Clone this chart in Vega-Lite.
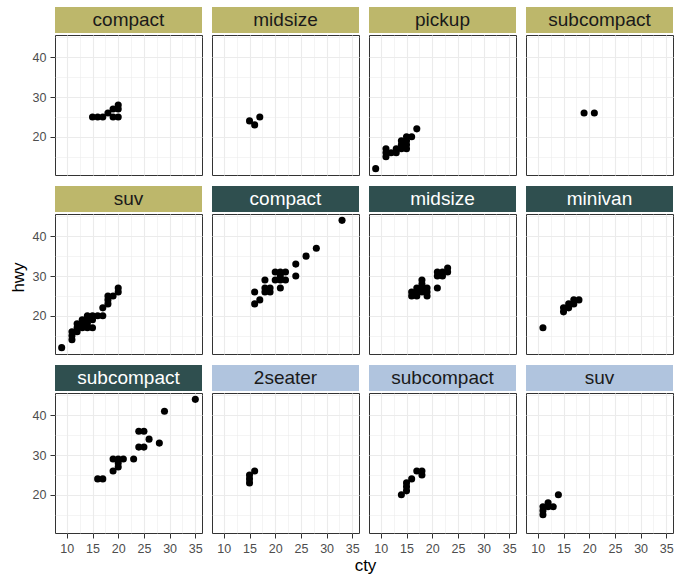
{
"$schema": "https://vega.github.io/schema/vega-lite/v6.json",
"padding": {"left": 8, "top": 7, "right": 3, "bottom": 3},
"background": "white",
"datasets": {
"mpg": [
{"drv":"4","class":"compact","cty":15,"hwy":25},{"drv":"4","class":"compact","cty":16,"hwy":25},{"drv":"4","class":"compact","cty":17,"hwy":25},{"drv":"4","class":"compact","cty":18,"hwy":26},{"drv":"4","class":"compact","cty":19,"hwy":27},{"drv":"4","class":"compact","cty":20,"hwy":28},{"drv":"4","class":"compact","cty":19,"hwy":25},{"drv":"4","class":"compact","cty":20,"hwy":25},{"drv":"4","class":"compact","cty":20,"hwy":27},
{"drv":"4","class":"midsize","cty":15,"hwy":24},{"drv":"4","class":"midsize","cty":16,"hwy":23},{"drv":"4","class":"midsize","cty":17,"hwy":25},
{"drv":"4","class":"pickup","cty":9,"hwy":12},{"drv":"4","class":"pickup","cty":11,"hwy":15},{"drv":"4","class":"pickup","cty":11,"hwy":16},{"drv":"4","class":"pickup","cty":11,"hwy":17},{"drv":"4","class":"pickup","cty":12,"hwy":16},{"drv":"4","class":"pickup","cty":13,"hwy":16},{"drv":"4","class":"pickup","cty":13,"hwy":17},{"drv":"4","class":"pickup","cty":14,"hwy":17},{"drv":"4","class":"pickup","cty":14,"hwy":18},{"drv":"4","class":"pickup","cty":14,"hwy":19},{"drv":"4","class":"pickup","cty":15,"hwy":17},{"drv":"4","class":"pickup","cty":15,"hwy":18},{"drv":"4","class":"pickup","cty":15,"hwy":19},{"drv":"4","class":"pickup","cty":15,"hwy":20},{"drv":"4","class":"pickup","cty":16,"hwy":20},{"drv":"4","class":"pickup","cty":17,"hwy":22},
{"drv":"4","class":"subcompact","cty":19,"hwy":26},{"drv":"4","class":"subcompact","cty":21,"hwy":26},
{"drv":"4","class":"suv","cty":9,"hwy":12},{"drv":"4","class":"suv","cty":11,"hwy":14},{"drv":"4","class":"suv","cty":11,"hwy":15},{"drv":"4","class":"suv","cty":11,"hwy":16},{"drv":"4","class":"suv","cty":12,"hwy":16},{"drv":"4","class":"suv","cty":12,"hwy":17},{"drv":"4","class":"suv","cty":12,"hwy":18},{"drv":"4","class":"suv","cty":13,"hwy":17},{"drv":"4","class":"suv","cty":13,"hwy":18},{"drv":"4","class":"suv","cty":13,"hwy":19},{"drv":"4","class":"suv","cty":14,"hwy":17},{"drv":"4","class":"suv","cty":14,"hwy":18},{"drv":"4","class":"suv","cty":14,"hwy":19},{"drv":"4","class":"suv","cty":14,"hwy":20},{"drv":"4","class":"suv","cty":15,"hwy":17},{"drv":"4","class":"suv","cty":15,"hwy":19},{"drv":"4","class":"suv","cty":15,"hwy":20},{"drv":"4","class":"suv","cty":16,"hwy":20},{"drv":"4","class":"suv","cty":17,"hwy":20},{"drv":"4","class":"suv","cty":17,"hwy":22},{"drv":"4","class":"suv","cty":18,"hwy":23},{"drv":"4","class":"suv","cty":18,"hwy":24},{"drv":"4","class":"suv","cty":18,"hwy":25},{"drv":"4","class":"suv","cty":19,"hwy":25},{"drv":"4","class":"suv","cty":20,"hwy":26},{"drv":"4","class":"suv","cty":20,"hwy":27},
{"drv":"f","class":"compact","cty":16,"hwy":23},{"drv":"f","class":"compact","cty":17,"hwy":24},{"drv":"f","class":"compact","cty":16,"hwy":26},{"drv":"f","class":"compact","cty":18,"hwy":26},{"drv":"f","class":"compact","cty":18,"hwy":27},{"drv":"f","class":"compact","cty":19,"hwy":26},{"drv":"f","class":"compact","cty":19,"hwy":27},{"drv":"f","class":"compact","cty":18,"hwy":29},{"drv":"f","class":"compact","cty":20,"hwy":29},{"drv":"f","class":"compact","cty":21,"hwy":29},{"drv":"f","class":"compact","cty":22,"hwy":29},{"drv":"f","class":"compact","cty":21,"hwy":27},{"drv":"f","class":"compact","cty":20,"hwy":31},{"drv":"f","class":"compact","cty":21,"hwy":31},{"drv":"f","class":"compact","cty":22,"hwy":31},{"drv":"f","class":"compact","cty":21,"hwy":30},{"drv":"f","class":"compact","cty":24,"hwy":30},{"drv":"f","class":"compact","cty":24,"hwy":33},{"drv":"f","class":"compact","cty":26,"hwy":35},{"drv":"f","class":"compact","cty":28,"hwy":37},{"drv":"f","class":"compact","cty":33,"hwy":44},
{"drv":"f","class":"midsize","cty":16,"hwy":25},{"drv":"f","class":"midsize","cty":16,"hwy":26},{"drv":"f","class":"midsize","cty":17,"hwy":26},{"drv":"f","class":"midsize","cty":17,"hwy":27},{"drv":"f","class":"midsize","cty":18,"hwy":26},{"drv":"f","class":"midsize","cty":18,"hwy":27},{"drv":"f","class":"midsize","cty":18,"hwy":28},{"drv":"f","class":"midsize","cty":18,"hwy":29},{"drv":"f","class":"midsize","cty":19,"hwy":25},{"drv":"f","class":"midsize","cty":19,"hwy":26},{"drv":"f","class":"midsize","cty":19,"hwy":27},{"drv":"f","class":"midsize","cty":17,"hwy":25},{"drv":"f","class":"midsize","cty":21,"hwy":27},{"drv":"f","class":"midsize","cty":21,"hwy":30},{"drv":"f","class":"midsize","cty":21,"hwy":31},{"drv":"f","class":"midsize","cty":22,"hwy":30},{"drv":"f","class":"midsize","cty":22,"hwy":31},{"drv":"f","class":"midsize","cty":23,"hwy":31},{"drv":"f","class":"midsize","cty":23,"hwy":32},
{"drv":"f","class":"minivan","cty":11,"hwy":17},{"drv":"f","class":"minivan","cty":15,"hwy":21},{"drv":"f","class":"minivan","cty":15,"hwy":22},{"drv":"f","class":"minivan","cty":16,"hwy":22},{"drv":"f","class":"minivan","cty":16,"hwy":23},{"drv":"f","class":"minivan","cty":17,"hwy":23},{"drv":"f","class":"minivan","cty":17,"hwy":24},{"drv":"f","class":"minivan","cty":18,"hwy":24},
{"drv":"f","class":"subcompact","cty":16,"hwy":24},{"drv":"f","class":"subcompact","cty":17,"hwy":24},{"drv":"f","class":"subcompact","cty":19,"hwy":26},{"drv":"f","class":"subcompact","cty":19,"hwy":29},{"drv":"f","class":"subcompact","cty":20,"hwy":27},{"drv":"f","class":"subcompact","cty":20,"hwy":28},{"drv":"f","class":"subcompact","cty":20,"hwy":29},{"drv":"f","class":"subcompact","cty":21,"hwy":29},{"drv":"f","class":"subcompact","cty":23,"hwy":29},{"drv":"f","class":"subcompact","cty":24,"hwy":32},{"drv":"f","class":"subcompact","cty":25,"hwy":32},{"drv":"f","class":"subcompact","cty":24,"hwy":36},{"drv":"f","class":"subcompact","cty":25,"hwy":36},{"drv":"f","class":"subcompact","cty":26,"hwy":34},{"drv":"f","class":"subcompact","cty":28,"hwy":33},{"drv":"f","class":"subcompact","cty":29,"hwy":41},{"drv":"f","class":"subcompact","cty":35,"hwy":44},
{"drv":"r","class":"2seater","cty":15,"hwy":23},{"drv":"r","class":"2seater","cty":15,"hwy":24},{"drv":"r","class":"2seater","cty":15,"hwy":25},{"drv":"r","class":"2seater","cty":16,"hwy":26},
{"drv":"r","class":"subcompact","cty":14,"hwy":20},{"drv":"r","class":"subcompact","cty":15,"hwy":21},{"drv":"r","class":"subcompact","cty":15,"hwy":22},{"drv":"r","class":"subcompact","cty":15,"hwy":23},{"drv":"r","class":"subcompact","cty":16,"hwy":24},{"drv":"r","class":"subcompact","cty":17,"hwy":26},{"drv":"r","class":"subcompact","cty":18,"hwy":26},{"drv":"r","class":"subcompact","cty":18,"hwy":25},
{"drv":"r","class":"suv","cty":11,"hwy":15},{"drv":"r","class":"suv","cty":11,"hwy":16},{"drv":"r","class":"suv","cty":11,"hwy":17},{"drv":"r","class":"suv","cty":12,"hwy":17},{"drv":"r","class":"suv","cty":12,"hwy":18},{"drv":"r","class":"suv","cty":13,"hwy":17},{"drv":"r","class":"suv","cty":14,"hwy":20}
],
"strips": [
{"drv":"4","class":"compact"},{"drv":"4","class":"midsize"},{"drv":"4","class":"pickup"},{"drv":"4","class":"subcompact"},{"drv":"4","class":"suv"},{"drv":"f","class":"compact"},{"drv":"f","class":"midsize"},{"drv":"f","class":"minivan"},{"drv":"f","class":"subcompact"},{"drv":"r","class":"2seater"},{"drv":"r","class":"subcompact"},{"drv":"r","class":"suv"}
]
},
"data": {"name": "mpg"},
"columns": 4,
"spacing": {"row": 2, "column": 10},
"bounds": "flush",
"resolve": {"scale": {"x": "independent", "y": "independent"}},
"concat": [
{"width": 147, "height": 26, "data": {"name": "strips"}, "transform": [{"filter": "datum.drv == '4' && datum.class == 'compact'"}], "view": {"stroke": null}, "layer": [{"mark": "rect", "encoding": {"color": {"field": "drv", "type": "nominal", "scale": {"domain": ["4","f","r"], "range": ["#BDB76B","#2F4F4F","#B0C4DE"]}, "legend": null}}}, {"mark": {"type": "text", "font": "Liberation Sans", "fontSize": 19, "baseline": "middle", "align": "center"}, "encoding": {"text": {"field": "class"}, "color": {"condition": {"test": "datum.drv == 'f'", "value": "#FFFFFF"}, "value": "#1A1A1A"}}}]},
{"width": 147, "height": 26, "data": {"name": "strips"}, "transform": [{"filter": "datum.drv == '4' && datum.class == 'midsize'"}], "view": {"stroke": null}, "layer": [{"mark": "rect", "encoding": {"color": {"field": "drv", "type": "nominal", "scale": {"domain": ["4","f","r"], "range": ["#BDB76B","#2F4F4F","#B0C4DE"]}, "legend": null}}}, {"mark": {"type": "text", "font": "Liberation Sans", "fontSize": 19, "baseline": "middle", "align": "center"}, "encoding": {"text": {"field": "class"}, "color": {"condition": {"test": "datum.drv == 'f'", "value": "#FFFFFF"}, "value": "#1A1A1A"}}}]},
{"width": 147, "height": 26, "data": {"name": "strips"}, "transform": [{"filter": "datum.drv == '4' && datum.class == 'pickup'"}], "view": {"stroke": null}, "layer": [{"mark": "rect", "encoding": {"color": {"field": "drv", "type": "nominal", "scale": {"domain": ["4","f","r"], "range": ["#BDB76B","#2F4F4F","#B0C4DE"]}, "legend": null}}}, {"mark": {"type": "text", "font": "Liberation Sans", "fontSize": 19, "baseline": "middle", "align": "center"}, "encoding": {"text": {"field": "class"}, "color": {"condition": {"test": "datum.drv == 'f'", "value": "#FFFFFF"}, "value": "#1A1A1A"}}}]},
{"width": 147, "height": 26, "data": {"name": "strips"}, "transform": [{"filter": "datum.drv == '4' && datum.class == 'subcompact'"}], "view": {"stroke": null}, "layer": [{"mark": "rect", "encoding": {"color": {"field": "drv", "type": "nominal", "scale": {"domain": ["4","f","r"], "range": ["#BDB76B","#2F4F4F","#B0C4DE"]}, "legend": null}}}, {"mark": {"type": "text", "font": "Liberation Sans", "fontSize": 19, "baseline": "middle", "align": "center"}, "encoding": {"text": {"field": "class"}, "color": {"condition": {"test": "datum.drv == 'f'", "value": "#FFFFFF"}, "value": "#1A1A1A"}}}]},
{"width": 147, "height": 140, "transform": [{"filter": "datum.drv == '4' && datum.class == 'compact'"}], "mark": {"type": "circle", "size": 50, "color": "black", "opacity": 1},
  "encoding": {"x": {"field": "cty", "type": "quantitative", "scale": {"domain": [7.7, 36.3], "nice": false, "zero": false}, "axis": {"values": [10,12.5,15,17.5,20,22.5,25,27.5,30,32.5,35], "labels": false, "ticks": false, "title": null, "gridWidth": {"condition": {"test": "datum.value % 5 == 0", "value": 1.1}, "value": 0.55}}},
   "y": {"field": "hwy", "type": "quantitative", "scale": {"domain": [10.4, 45.6], "nice": false, "zero": false}, "axis": {"values": [15,20,25,30,35,40,45], "labelExpr": "datum.value % 10 == 0 ? datum.label : ''", "title": null, "gridWidth": {"condition": {"test": "datum.value % 10 == 0", "value": 1.1}, "value": 0.55}, "tickOpacity": {"condition": {"test": "datum.value % 10 == 0", "value": 1}, "value": 0}}}}},
{"width": 147, "height": 140, "transform": [{"filter": "datum.drv == '4' && datum.class == 'midsize'"}], "mark": {"type": "circle", "size": 50, "color": "black", "opacity": 1},
  "encoding": {"x": {"field": "cty", "type": "quantitative", "scale": {"domain": [7.7, 36.3], "nice": false, "zero": false}, "axis": {"values": [10,12.5,15,17.5,20,22.5,25,27.5,30,32.5,35], "labels": false, "ticks": false, "title": null, "gridWidth": {"condition": {"test": "datum.value % 5 == 0", "value": 1.1}, "value": 0.55}}},
   "y": {"field": "hwy", "type": "quantitative", "scale": {"domain": [10.4, 45.6], "nice": false, "zero": false}, "axis": {"values": [15,20,25,30,35,40,45], "labels": false, "ticks": false, "title": null, "gridWidth": {"condition": {"test": "datum.value % 10 == 0", "value": 1.1}, "value": 0.55}}}}},
{"width": 147, "height": 140, "transform": [{"filter": "datum.drv == '4' && datum.class == 'pickup'"}], "mark": {"type": "circle", "size": 50, "color": "black", "opacity": 1},
  "encoding": {"x": {"field": "cty", "type": "quantitative", "scale": {"domain": [7.7, 36.3], "nice": false, "zero": false}, "axis": {"values": [10,12.5,15,17.5,20,22.5,25,27.5,30,32.5,35], "labels": false, "ticks": false, "title": null, "gridWidth": {"condition": {"test": "datum.value % 5 == 0", "value": 1.1}, "value": 0.55}}},
   "y": {"field": "hwy", "type": "quantitative", "scale": {"domain": [10.4, 45.6], "nice": false, "zero": false}, "axis": {"values": [15,20,25,30,35,40,45], "labels": false, "ticks": false, "title": null, "gridWidth": {"condition": {"test": "datum.value % 10 == 0", "value": 1.1}, "value": 0.55}}}}},
{"width": 147, "height": 140, "transform": [{"filter": "datum.drv == '4' && datum.class == 'subcompact'"}], "mark": {"type": "circle", "size": 50, "color": "black", "opacity": 1},
  "encoding": {"x": {"field": "cty", "type": "quantitative", "scale": {"domain": [7.7, 36.3], "nice": false, "zero": false}, "axis": {"values": [10,12.5,15,17.5,20,22.5,25,27.5,30,32.5,35], "labels": false, "ticks": false, "title": null, "gridWidth": {"condition": {"test": "datum.value % 5 == 0", "value": 1.1}, "value": 0.55}}},
   "y": {"field": "hwy", "type": "quantitative", "scale": {"domain": [10.4, 45.6], "nice": false, "zero": false}, "axis": {"values": [15,20,25,30,35,40,45], "labels": false, "ticks": false, "title": null, "gridWidth": {"condition": {"test": "datum.value % 10 == 0", "value": 1.1}, "value": 0.55}}}}},
{"width": 147, "height": 35, "data": {"name": "strips"}, "transform": [{"filter": "datum.drv == '4' && datum.class == 'suv'"}], "view": {"stroke": null}, "encoding": {"y": {"field": "class", "type": "nominal", "axis": null, "scale": {"paddingInner": 0, "paddingOuter": 0.173, "align": 1}}}, "layer": [{"mark": "rect", "encoding": {"color": {"field": "drv", "type": "nominal", "scale": {"domain": ["4","f","r"], "range": ["#BDB76B","#2F4F4F","#B0C4DE"]}, "legend": null}}}, {"mark": {"type": "text", "font": "Liberation Sans", "fontSize": 19, "baseline": "middle", "align": "center"}, "encoding": {"text": {"field": "class"}, "color": {"condition": {"test": "datum.drv == 'f'", "value": "#FFFFFF"}, "value": "#1A1A1A"}}}]},
{"width": 147, "height": 35, "data": {"name": "strips"}, "transform": [{"filter": "datum.drv == 'f' && datum.class == 'compact'"}], "view": {"stroke": null}, "encoding": {"y": {"field": "class", "type": "nominal", "axis": null, "scale": {"paddingInner": 0, "paddingOuter": 0.173, "align": 1}}}, "layer": [{"mark": "rect", "encoding": {"color": {"field": "drv", "type": "nominal", "scale": {"domain": ["4","f","r"], "range": ["#BDB76B","#2F4F4F","#B0C4DE"]}, "legend": null}}}, {"mark": {"type": "text", "font": "Liberation Sans", "fontSize": 19, "baseline": "middle", "align": "center"}, "encoding": {"text": {"field": "class"}, "color": {"condition": {"test": "datum.drv == 'f'", "value": "#FFFFFF"}, "value": "#1A1A1A"}}}]},
{"width": 147, "height": 35, "data": {"name": "strips"}, "transform": [{"filter": "datum.drv == 'f' && datum.class == 'midsize'"}], "view": {"stroke": null}, "encoding": {"y": {"field": "class", "type": "nominal", "axis": null, "scale": {"paddingInner": 0, "paddingOuter": 0.173, "align": 1}}}, "layer": [{"mark": "rect", "encoding": {"color": {"field": "drv", "type": "nominal", "scale": {"domain": ["4","f","r"], "range": ["#BDB76B","#2F4F4F","#B0C4DE"]}, "legend": null}}}, {"mark": {"type": "text", "font": "Liberation Sans", "fontSize": 19, "baseline": "middle", "align": "center"}, "encoding": {"text": {"field": "class"}, "color": {"condition": {"test": "datum.drv == 'f'", "value": "#FFFFFF"}, "value": "#1A1A1A"}}}]},
{"width": 147, "height": 35, "data": {"name": "strips"}, "transform": [{"filter": "datum.drv == 'f' && datum.class == 'minivan'"}], "view": {"stroke": null}, "encoding": {"y": {"field": "class", "type": "nominal", "axis": null, "scale": {"paddingInner": 0, "paddingOuter": 0.173, "align": 1}}}, "layer": [{"mark": "rect", "encoding": {"color": {"field": "drv", "type": "nominal", "scale": {"domain": ["4","f","r"], "range": ["#BDB76B","#2F4F4F","#B0C4DE"]}, "legend": null}}}, {"mark": {"type": "text", "font": "Liberation Sans", "fontSize": 19, "baseline": "middle", "align": "center"}, "encoding": {"text": {"field": "class"}, "color": {"condition": {"test": "datum.drv == 'f'", "value": "#FFFFFF"}, "value": "#1A1A1A"}}}]},
{"width": 147, "height": 140, "transform": [{"filter": "datum.drv == '4' && datum.class == 'suv'"}], "mark": {"type": "circle", "size": 50, "color": "black", "opacity": 1},
  "encoding": {"x": {"field": "cty", "type": "quantitative", "scale": {"domain": [7.7, 36.3], "nice": false, "zero": false}, "axis": {"values": [10,12.5,15,17.5,20,22.5,25,27.5,30,32.5,35], "labels": false, "ticks": false, "title": null, "gridWidth": {"condition": {"test": "datum.value % 5 == 0", "value": 1.1}, "value": 0.55}}},
   "y": {"field": "hwy", "type": "quantitative", "scale": {"domain": [10.4, 45.6], "nice": false, "zero": false}, "axis": {"values": [15,20,25,30,35,40,45], "labelExpr": "datum.value % 10 == 0 ? datum.label : ''", "title": "hwy", "titleY": 63, "gridWidth": {"condition": {"test": "datum.value % 10 == 0", "value": 1.1}, "value": 0.55}, "tickOpacity": {"condition": {"test": "datum.value % 10 == 0", "value": 1}, "value": 0}}}}},
{"width": 147, "height": 140, "transform": [{"filter": "datum.drv == 'f' && datum.class == 'compact'"}], "mark": {"type": "circle", "size": 50, "color": "black", "opacity": 1},
  "encoding": {"x": {"field": "cty", "type": "quantitative", "scale": {"domain": [7.7, 36.3], "nice": false, "zero": false}, "axis": {"values": [10,12.5,15,17.5,20,22.5,25,27.5,30,32.5,35], "labels": false, "ticks": false, "title": null, "gridWidth": {"condition": {"test": "datum.value % 5 == 0", "value": 1.1}, "value": 0.55}}},
   "y": {"field": "hwy", "type": "quantitative", "scale": {"domain": [10.4, 45.6], "nice": false, "zero": false}, "axis": {"values": [15,20,25,30,35,40,45], "labels": false, "ticks": false, "title": null, "gridWidth": {"condition": {"test": "datum.value % 10 == 0", "value": 1.1}, "value": 0.55}}}}},
{"width": 147, "height": 140, "transform": [{"filter": "datum.drv == 'f' && datum.class == 'midsize'"}], "mark": {"type": "circle", "size": 50, "color": "black", "opacity": 1},
  "encoding": {"x": {"field": "cty", "type": "quantitative", "scale": {"domain": [7.7, 36.3], "nice": false, "zero": false}, "axis": {"values": [10,12.5,15,17.5,20,22.5,25,27.5,30,32.5,35], "labels": false, "ticks": false, "title": null, "gridWidth": {"condition": {"test": "datum.value % 5 == 0", "value": 1.1}, "value": 0.55}}},
   "y": {"field": "hwy", "type": "quantitative", "scale": {"domain": [10.4, 45.6], "nice": false, "zero": false}, "axis": {"values": [15,20,25,30,35,40,45], "labels": false, "ticks": false, "title": null, "gridWidth": {"condition": {"test": "datum.value % 10 == 0", "value": 1.1}, "value": 0.55}}}}},
{"width": 147, "height": 140, "transform": [{"filter": "datum.drv == 'f' && datum.class == 'minivan'"}], "mark": {"type": "circle", "size": 50, "color": "black", "opacity": 1},
  "encoding": {"x": {"field": "cty", "type": "quantitative", "scale": {"domain": [7.7, 36.3], "nice": false, "zero": false}, "axis": {"values": [10,12.5,15,17.5,20,22.5,25,27.5,30,32.5,35], "labels": false, "ticks": false, "title": null, "gridWidth": {"condition": {"test": "datum.value % 5 == 0", "value": 1.1}, "value": 0.55}}},
   "y": {"field": "hwy", "type": "quantitative", "scale": {"domain": [10.4, 45.6], "nice": false, "zero": false}, "axis": {"values": [15,20,25,30,35,40,45], "labels": false, "ticks": false, "title": null, "gridWidth": {"condition": {"test": "datum.value % 10 == 0", "value": 1.1}, "value": 0.55}}}}},
{"width": 147, "height": 35, "data": {"name": "strips"}, "transform": [{"filter": "datum.drv == 'f' && datum.class == 'subcompact'"}], "view": {"stroke": null}, "encoding": {"y": {"field": "class", "type": "nominal", "axis": null, "scale": {"paddingInner": 0, "paddingOuter": 0.173, "align": 1}}}, "layer": [{"mark": "rect", "encoding": {"color": {"field": "drv", "type": "nominal", "scale": {"domain": ["4","f","r"], "range": ["#BDB76B","#2F4F4F","#B0C4DE"]}, "legend": null}}}, {"mark": {"type": "text", "font": "Liberation Sans", "fontSize": 19, "baseline": "middle", "align": "center"}, "encoding": {"text": {"field": "class"}, "color": {"condition": {"test": "datum.drv == 'f'", "value": "#FFFFFF"}, "value": "#1A1A1A"}}}]},
{"width": 147, "height": 35, "data": {"name": "strips"}, "transform": [{"filter": "datum.drv == 'r' && datum.class == '2seater'"}], "view": {"stroke": null}, "encoding": {"y": {"field": "class", "type": "nominal", "axis": null, "scale": {"paddingInner": 0, "paddingOuter": 0.173, "align": 1}}}, "layer": [{"mark": "rect", "encoding": {"color": {"field": "drv", "type": "nominal", "scale": {"domain": ["4","f","r"], "range": ["#BDB76B","#2F4F4F","#B0C4DE"]}, "legend": null}}}, {"mark": {"type": "text", "font": "Liberation Sans", "fontSize": 19, "baseline": "middle", "align": "center"}, "encoding": {"text": {"field": "class"}, "color": {"condition": {"test": "datum.drv == 'f'", "value": "#FFFFFF"}, "value": "#1A1A1A"}}}]},
{"width": 147, "height": 35, "data": {"name": "strips"}, "transform": [{"filter": "datum.drv == 'r' && datum.class == 'subcompact'"}], "view": {"stroke": null}, "encoding": {"y": {"field": "class", "type": "nominal", "axis": null, "scale": {"paddingInner": 0, "paddingOuter": 0.173, "align": 1}}}, "layer": [{"mark": "rect", "encoding": {"color": {"field": "drv", "type": "nominal", "scale": {"domain": ["4","f","r"], "range": ["#BDB76B","#2F4F4F","#B0C4DE"]}, "legend": null}}}, {"mark": {"type": "text", "font": "Liberation Sans", "fontSize": 19, "baseline": "middle", "align": "center"}, "encoding": {"text": {"field": "class"}, "color": {"condition": {"test": "datum.drv == 'f'", "value": "#FFFFFF"}, "value": "#1A1A1A"}}}]},
{"width": 147, "height": 35, "data": {"name": "strips"}, "transform": [{"filter": "datum.drv == 'r' && datum.class == 'suv'"}], "view": {"stroke": null}, "encoding": {"y": {"field": "class", "type": "nominal", "axis": null, "scale": {"paddingInner": 0, "paddingOuter": 0.173, "align": 1}}}, "layer": [{"mark": "rect", "encoding": {"color": {"field": "drv", "type": "nominal", "scale": {"domain": ["4","f","r"], "range": ["#BDB76B","#2F4F4F","#B0C4DE"]}, "legend": null}}}, {"mark": {"type": "text", "font": "Liberation Sans", "fontSize": 19, "baseline": "middle", "align": "center"}, "encoding": {"text": {"field": "class"}, "color": {"condition": {"test": "datum.drv == 'f'", "value": "#FFFFFF"}, "value": "#1A1A1A"}}}]},
{"width": 147, "height": 140, "transform": [{"filter": "datum.drv == 'f' && datum.class == 'subcompact'"}], "mark": {"type": "circle", "size": 50, "color": "black", "opacity": 1},
  "encoding": {"x": {"field": "cty", "type": "quantitative", "scale": {"domain": [7.7, 36.3], "nice": false, "zero": false}, "axis": {"values": [10,12.5,15,17.5,20,22.5,25,27.5,30,32.5,35], "labelExpr": "datum.value % 5 == 0 ? datum.label : ''", "title": null, "gridWidth": {"condition": {"test": "datum.value % 5 == 0", "value": 1.1}, "value": 0.55}, "tickOpacity": {"condition": {"test": "datum.value % 5 == 0", "value": 1}, "value": 0}}},
   "y": {"field": "hwy", "type": "quantitative", "scale": {"domain": [10.4, 45.6], "nice": false, "zero": false}, "axis": {"values": [15,20,25,30,35,40,45], "labelExpr": "datum.value % 10 == 0 ? datum.label : ''", "title": null, "gridWidth": {"condition": {"test": "datum.value % 10 == 0", "value": 1.1}, "value": 0.55}, "tickOpacity": {"condition": {"test": "datum.value % 10 == 0", "value": 1}, "value": 0}}}}},
{"width": 147, "height": 140, "transform": [{"filter": "datum.drv == 'r' && datum.class == '2seater'"}], "mark": {"type": "circle", "size": 50, "color": "black", "opacity": 1},
  "encoding": {"x": {"field": "cty", "type": "quantitative", "scale": {"domain": [7.7, 36.3], "nice": false, "zero": false}, "axis": {"values": [10,12.5,15,17.5,20,22.5,25,27.5,30,32.5,35], "labelExpr": "datum.value % 5 == 0 ? datum.label : ''", "title": "cty", "titleX": 153, "gridWidth": {"condition": {"test": "datum.value % 5 == 0", "value": 1.1}, "value": 0.55}, "tickOpacity": {"condition": {"test": "datum.value % 5 == 0", "value": 1}, "value": 0}}},
   "y": {"field": "hwy", "type": "quantitative", "scale": {"domain": [10.4, 45.6], "nice": false, "zero": false}, "axis": {"values": [15,20,25,30,35,40,45], "labels": false, "ticks": false, "title": null, "gridWidth": {"condition": {"test": "datum.value % 10 == 0", "value": 1.1}, "value": 0.55}}}}},
{"width": 147, "height": 140, "transform": [{"filter": "datum.drv == 'r' && datum.class == 'subcompact'"}], "mark": {"type": "circle", "size": 50, "color": "black", "opacity": 1},
  "encoding": {"x": {"field": "cty", "type": "quantitative", "scale": {"domain": [7.7, 36.3], "nice": false, "zero": false}, "axis": {"values": [10,12.5,15,17.5,20,22.5,25,27.5,30,32.5,35], "labelExpr": "datum.value % 5 == 0 ? datum.label : ''", "title": null, "gridWidth": {"condition": {"test": "datum.value % 5 == 0", "value": 1.1}, "value": 0.55}, "tickOpacity": {"condition": {"test": "datum.value % 5 == 0", "value": 1}, "value": 0}}},
   "y": {"field": "hwy", "type": "quantitative", "scale": {"domain": [10.4, 45.6], "nice": false, "zero": false}, "axis": {"values": [15,20,25,30,35,40,45], "labels": false, "ticks": false, "title": null, "gridWidth": {"condition": {"test": "datum.value % 10 == 0", "value": 1.1}, "value": 0.55}}}}},
{"width": 147, "height": 140, "transform": [{"filter": "datum.drv == 'r' && datum.class == 'suv'"}], "mark": {"type": "circle", "size": 50, "color": "black", "opacity": 1},
  "encoding": {"x": {"field": "cty", "type": "quantitative", "scale": {"domain": [7.7, 36.3], "nice": false, "zero": false}, "axis": {"values": [10,12.5,15,17.5,20,22.5,25,27.5,30,32.5,35], "labelExpr": "datum.value % 5 == 0 ? datum.label : ''", "title": null, "gridWidth": {"condition": {"test": "datum.value % 5 == 0", "value": 1.1}, "value": 0.55}, "tickOpacity": {"condition": {"test": "datum.value % 5 == 0", "value": 1}, "value": 0}}},
   "y": {"field": "hwy", "type": "quantitative", "scale": {"domain": [10.4, 45.6], "nice": false, "zero": false}, "axis": {"values": [15,20,25,30,35,40,45], "labels": false, "ticks": false, "title": null, "gridWidth": {"condition": {"test": "datum.value % 10 == 0", "value": 1.1}, "value": 0.55}}}}}
],
"config": {
 "view": {"stroke": "#333333", "strokeWidth": 1},
 "axis": {"domain": false, "grid": true, "gridColor": "#EBEBEB", "tickColor": "#333333", "tickSize": 5, "labelFont": "Liberation Sans", "labelFontSize": 12.5, "labelColor": "#4D4D4D", "labelPadding": 4, "labelOverlap": false, "labelFlush": false, "titleFont": "Liberation Sans", "titleFontSize": 17, "titleFontWeight": "normal", "titleColor": "#000000"},
 "axisX": {"titlePadding": 3},
 "axisY": {"titlePadding": 5}
}
}
